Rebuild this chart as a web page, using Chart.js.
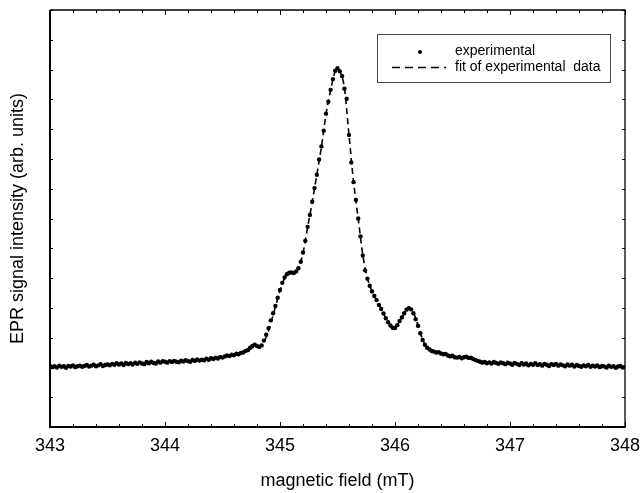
<!DOCTYPE html>
<html>
<head>
<meta charset="utf-8">
<script src="https://cdn.jsdelivr.net/npm/chart.js@4/dist/chart.umd.min.js"></script>
<style>
  body { margin: 0; background: #fff; }
  canvas { display: block; }
</style>
</head>
<body>
<canvas id="epr" width="641" height="493"></canvas>
<script>
// Sampling grid of the spectrometer sweep (mT)
const FIELD_START = 343;
const FIELD_STEP = 0.02;

// Experimental EPR signal, one value per field step, 343.00 ... 348.00 mT
const expSignal = [
  2.05, 2.01, 2.04, 2.00, 2.06, 2.02, 2.04, 1.99, 2.05, 2.03,
  2.07, 2.01, 2.04, 2.06, 2.02, 2.05, 2.08, 2.03, 2.06, 2.09,
  2.04, 2.07, 2.11, 2.05, 2.08, 2.10,
  2.07, 2.12, 2.09, 2.14, 2.10, 2.13, 2.08, 2.15, 2.11, 2.14,
  2.10, 2.16, 2.12, 2.17, 2.13, 2.11, 2.18, 2.14, 2.19, 2.15,
  2.13, 2.20, 2.16, 2.21, 2.19,
  2.16, 2.21, 2.18, 2.22, 2.19, 2.17, 2.23, 2.20, 2.24, 2.21,
  2.19, 2.25, 2.22, 2.27, 2.23, 2.26, 2.24, 2.29, 2.26, 2.31,
  2.28, 2.33, 2.30, 2.35, 2.33,
  2.37, 2.40, 2.38, 2.43, 2.41, 2.46, 2.44, 2.49, 2.50, 2.55,
  2.58, 2.66, 2.72, 2.76, 2.72, 2.69, 2.74, 2.90, 3.10, 3.32,
  3.58, 3.82, 4.06, 4.34, 4.60,
  4.84, 5.02, 5.13, 5.18, 5.19, 5.17, 5.22, 5.33, 5.55, 5.86,
  6.25, 6.72, 7.12, 7.56, 8.02, 8.47, 8.98, 9.42, 9.95, 10.52,
  10.92, 11.32, 11.68, 11.96, 12.05, 11.94, 11.78, 11.36, 11.02, 9.80,
  8.88, 8.22, 7.62, 7.00, 6.40, 5.76, 5.26, 4.98, 4.74, 4.55,
  4.40, 4.26, 4.10, 3.96, 3.81, 3.65, 3.52, 3.41, 3.33, 3.32,
  3.42, 3.56, 3.68, 3.82, 3.94, 3.99, 3.95, 3.82, 3.62, 3.40,
  3.15, 2.92, 2.76, 2.66, 2.60, 2.55, 2.53, 2.50, 2.51, 2.47,
  2.44, 2.45, 2.40, 2.37, 2.39, 2.34, 2.33, 2.35, 2.31, 2.34,
  2.36, 2.32, 2.33, 2.28, 2.25, 2.22, 2.19, 2.16, 2.18, 2.14,
  2.17, 2.13, 2.18, 2.15, 2.12, 2.17, 2.14,
  2.11, 2.16, 2.13, 2.09, 2.15, 2.12, 2.08, 2.14, 2.10, 2.13,
  2.07, 2.12, 2.09, 2.14, 2.08, 2.11, 2.06, 2.12, 2.09, 2.05,
  2.11, 2.08, 2.12, 2.06, 2.10, 2.07, 2.04, 2.10, 2.06, 2.09,
  2.03, 2.08, 2.05, 2.02, 2.07, 2.04, 2.08, 2.02, 2.06, 2.03,
  2.07, 2.01, 2.05, 2.03, 2.00, 2.06, 2.02, 2.04, 1.99, 2.03,
  2.05, 2.00, 2.02,
];

// Fitted curve
const fitField = [
  343.0, 343.5, 344.0, 344.3, 344.5, 344.6, 344.7, 344.76, 344.8, 344.84,
  344.88, 344.92, 344.96, 345.0, 345.04, 345.08, 345.12, 345.16, 345.2, 345.24,
  345.28, 345.32, 345.36, 345.4, 345.44, 345.48, 345.5, 345.52, 345.56, 345.6,
  345.64, 345.68, 345.72, 345.76, 345.8, 345.86, 345.92, 345.98, 346.0, 346.04,
  346.08, 346.12, 346.16, 346.2, 346.24, 346.28, 346.34, 346.4, 346.5, 346.6,
  346.7, 346.8, 347.0, 347.5, 348.0,
];
const fitSignal = [
  2.04, 2.09, 2.18, 2.24, 2.33, 2.40, 2.52, 2.66, 2.70, 2.72,
  3.02, 3.48, 4.04, 4.58, 5.00, 5.17, 5.18, 5.32, 5.84, 6.70,
  7.55, 8.46, 9.40, 10.50, 11.30, 11.95, 12.03, 11.95, 11.38, 9.80,
  8.22, 7.00, 5.78, 5.00, 4.56, 4.12, 3.66, 3.34, 3.33, 3.55,
  3.80, 3.98, 3.84, 3.42, 2.94, 2.68, 2.54, 2.48, 2.38, 2.34,
  2.26, 2.17, 2.13, 2.08, 2.02,
];

const xTickLabels = ['343', '344', '345', '346', '347', '348'];
const legendLabels = ['experimental', 'fit of experimental  data'];

const FONT = "'Liberation Sans', Arial, sans-serif";

// Frame with inward ticks on all four sides, plus the boxed legend
const framePlugin = {
  id: 'frame',
  afterDraw(chart) {
    const { ctx, chartArea: a, scales: { x, y } } = chart;
    ctx.save();
    ctx.strokeStyle = '#000';

    // ticks
    ctx.lineWidth = 1;
    ctx.beginPath();
    for (let i = 0; i <= 25; i++) {
      const v = 343 + i * 0.2;
      const px = Math.round(x.getPixelForValue(v)) + 0.5;
      const len = i % 5 === 0 ? 5 : 3;
      ctx.moveTo(px, a.bottom); ctx.lineTo(px, a.bottom - len);
      ctx.moveTo(px, a.top); ctx.lineTo(px, a.top + len);
    }
    for (let v = 0; v <= 14; v++) {
      const py = Math.round(y.getPixelForValue(v)) + 0.5;
      ctx.moveTo(a.left, py); ctx.lineTo(a.left + 3, py);
      ctx.moveTo(a.right, py); ctx.lineTo(a.right - 3, py);
    }
    ctx.stroke();

    // box
    ctx.lineWidth = 1.3;
    ctx.beginPath();
    ctx.moveTo(a.left, a.top); ctx.lineTo(a.right, a.top); ctx.lineTo(a.right, a.bottom);
    ctx.stroke();
    ctx.lineWidth = 2;
    ctx.beginPath();
    ctx.moveTo(a.left, a.top); ctx.lineTo(a.left, a.bottom); ctx.lineTo(a.right + 0.6, a.bottom);
    ctx.stroke();

    // legend
    const lx = 377.5, ly = 34.5, lw = 233, lh = 48;
    ctx.fillStyle = '#fff';
    ctx.fillRect(lx, ly, lw, lh);
    ctx.strokeStyle = '#444';
    ctx.lineWidth = 1;
    ctx.strokeRect(lx, ly, lw, lh);

    ctx.fillStyle = '#000';
    ctx.beginPath();
    ctx.arc(420, 52, 2, 0, Math.PI * 2);
    ctx.fill();

    ctx.strokeStyle = '#000';
    ctx.lineWidth = 1.6;
    ctx.setLineDash([8, 5]);
    ctx.beginPath();
    ctx.moveTo(392, 67.5); ctx.lineTo(446, 67.5);
    ctx.stroke();
    ctx.setLineDash([]);

    ctx.font = `14px ${FONT}`;
    ctx.textBaseline = 'alphabetic';
    ctx.textAlign = 'left';
    ctx.fillText(legendLabels[0], 455, 55);
    ctx.fillText(legendLabels[1], 455, 71);
    ctx.restore();
  },
};

new Chart(document.getElementById('epr'), {
  type: 'scatter',
  data: {
    datasets: [
      {
        label: legendLabels[0],
        data: expSignal.map((v, i) => ({ x: FIELD_START + i * FIELD_STEP, y: v })),
        pointRadius: 2.2,
        pointBorderWidth: 0,
        pointBackgroundColor: '#000',
        showLine: false,
      },
      {
        label: legendLabels[1],
        data: fitField.map((f, i) => ({ x: f, y: fitSignal[i] })),
        showLine: true,
        borderColor: '#000',
        borderWidth: 1.6,
        borderDash: [6, 4],
        pointRadius: 0,
        cubicInterpolationMode: 'monotone',
      },
    ],
  },
  options: {
    responsive: false,
    animation: false,
    layout: { padding: { left: 0, right: 16, top: 10, bottom: 0 } },
    plugins: { legend: { display: false }, tooltip: { enabled: false } },
    scales: {
      x: {
        type: 'linear',
        min: 343,
        max: 348,
        afterFit(scale) {
          scale.height = 66;
          scale.paddingLeft = 0;
          scale.paddingRight = 0;
        },
        afterBuildTicks(scale) {
          scale.ticks = xTickLabels.map(t => ({ value: Number(t) }));
        },
        ticks: {
          callback: v => xTickLabels.find(t => Number(t) === v) ?? '',
          color: '#000',
          font: { family: FONT, size: 18 },
          padding: 8,
          maxRotation: 0,
        },
        grid: { display: false, drawTicks: false, tickLength: 0 },
        border: { display: false },
        title: {
          display: true,
          text: 'magnetic field (mT)',
          color: '#000',
          font: { family: FONT, size: 18 },
          padding: { top: 0, bottom: 1 },
        },
      },
      y: {
        min: 0,
        max: 14,
        afterFit(scale) { scale.width = 50; },
        ticks: { display: false },
        grid: { display: false, drawTicks: false, tickLength: 0 },
        border: { display: false },
        title: {
          display: true,
          text: 'EPR signal intensity (arb. units)',
          color: '#000',
          font: { family: FONT, size: 18 },
          padding: { top: 7, bottom: 0 },
        },
      },
    },
  },
  plugins: [framePlugin],
});
</script>
</body>
</html>
